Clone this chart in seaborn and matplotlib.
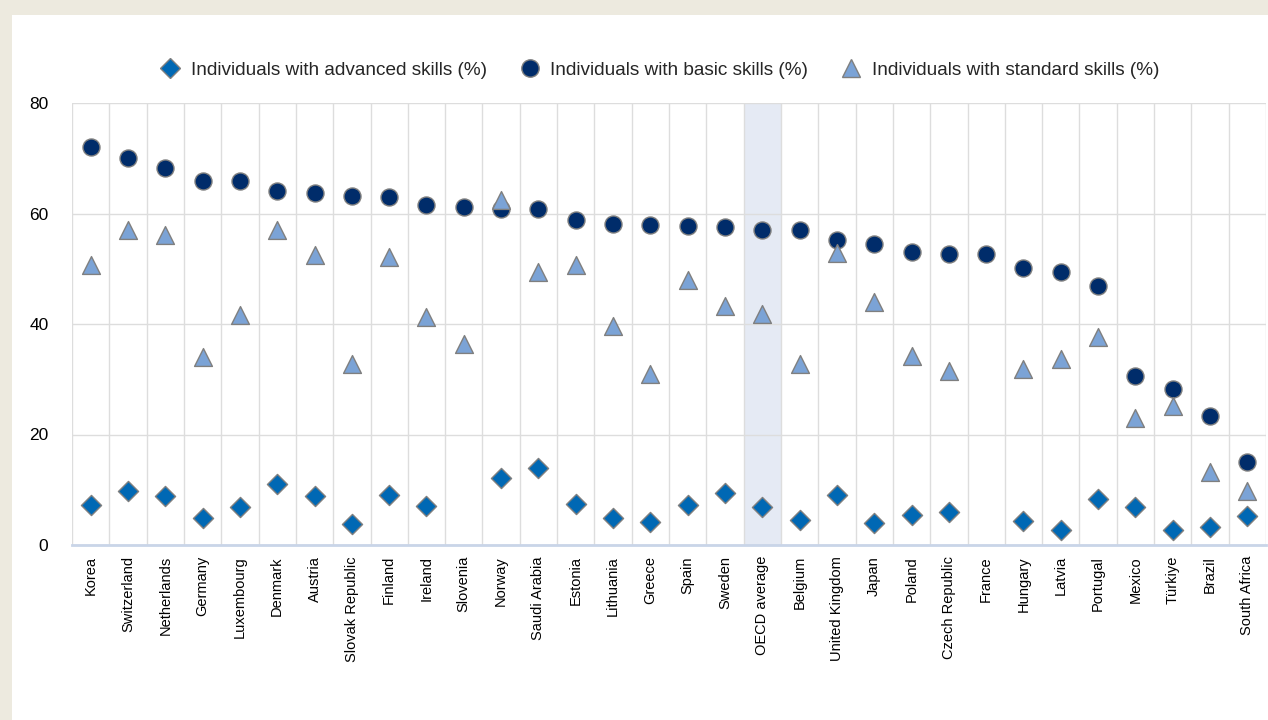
import matplotlib
matplotlib.use("Agg")
import matplotlib.pyplot as plt
from matplotlib.patches import Rectangle
from matplotlib.lines import Line2D
import seaborn as sns
import pandas as pd
import numpy as np

countries = ["Korea", "Switzerland", "Netherlands", "Germany", "Luxembourg", "Denmark",
             "Austria", "Slovak Republic", "Finland", "Ireland", "Slovenia", "Norway",
             "Saudi Arabia", "Estonia", "Lithuania", "Greece", "Spain", "Sweden",
             "OECD average", "Belgium", "United Kingdom", "Japan", "Poland",
             "Czech Republic", "France", "Hungary", "Latvia", "Portugal", "Mexico",
             "Türkiye", "Brazil", "South Africa"]

advanced = [7.2, 9.8, 8.9, 4.8, 6.8, 11.0, 8.9, 3.8, 9.0, 7.1, np.nan, 12.1,
            13.9, 7.5, 4.8, 4.2, 7.2, 9.5, 6.8, 4.6, 9.0, 3.9, 5.5,
            5.9, np.nan, 4.3, 2.7, 8.3, 6.9, 2.7, 3.2, 5.2]

basic = [72.1, 70.1, 68.3, 65.9, 65.8, 64.1, 63.7, 63.2, 62.9, 61.5, 61.2, 60.8,
         60.8, 58.8, 58.1, 57.9, 57.8, 57.6, 57.1, 57.1, 55.2, 54.4, 53.1,
         52.6, 52.6, 50.1, 49.4, 46.9, 30.6, 28.2, 23.3, 15.1]

standard = [50.7, 57.0, 56.1, 34.1, 41.6, 57.0, 52.5, 32.8, 52.1, 41.3, 36.3, 62.5,
            49.5, 50.7, 39.6, 30.9, 48.0, 43.3, 41.9, 32.8, 52.8, 44.0, 34.2,
            31.5, np.nan, 31.9, 33.6, 37.6, 22.9, 25.2, 13.3, 9.7]

series_names = ["Individuals with advanced skills (%)",
                "Individuals with basic skills (%)",
                "Individuals with standard skills (%)"]

y_ticks = [0, 20, 40, 60, 80]

sns.set_theme(style="white")
plt.rcParams["font.family"] = ["Liberation Sans", "DejaVu Sans"]

fig = plt.figure(figsize=(12.68, 7.2), dpi=100)
fig.patch.set_facecolor("#EDEADF")
fig.patches.append(Rectangle((12 / 1268, 0), 1 - 12 / 1268, 1 - 15 / 720,
                             transform=fig.transFigure, facecolor="white",
                             edgecolor="none", zorder=-5))

ax = fig.add_axes([72 / 1268, 1 - 545 / 720, (1266 - 72) / 1268, (545 - 103) / 720])
ax.set_facecolor("white")

x = np.arange(len(countries))
df = pd.DataFrame({"x": x, "country": countries,
                   series_names[0]: advanced,
                   series_names[1]: basic,
                   series_names[2]: standard})

# OECD average highlight
oecd_i = countries.index("OECD average")
ax.axvspan(oecd_i - 0.5, oecd_i + 0.5, color="#E5EAF4", zorder=0, lw=0)

styles = [
    dict(marker="D", color="#0068B4", s=105, z=5),
    dict(marker="o", color="#002C6A", s=150, z=3),
    dict(marker="^", color="#7BA3D6", s=165, z=4),
]
for i in [1, 2, 0]:
    st = styles[i]
    sns.scatterplot(data=df, x="x", y=series_names[i], ax=ax, marker=st["marker"],
                    color=st["color"], s=st["s"], edgecolor="#7F7F7F", linewidth=1.0,
                    zorder=st["z"], legend=False)

ax.set_xlim(-0.5, len(countries) - 0.5)
ax.set_ylim(0, 80)
ax.set_xticks(x)
ax.set_xticklabels(countries, rotation=90, fontsize=10.5, color="black")
ax.set_xticks(np.arange(-0.5, len(countries), 1), minor=True)
ax.set_yticks(y_ticks)
ax.set_yticklabels([str(v) for v in y_ticks], fontsize=12.5, color="black")
ax.tick_params(axis="both", which="both", length=0)
ax.tick_params(axis="y", pad=17)
ax.tick_params(axis="x", pad=8)
ax.set_xlabel("")
ax.set_ylabel("")

ax.grid(False)
ax.grid(axis="x", which="minor", color="#DDDDDD", lw=1.0, zorder=1)
ax.grid(axis="y", which="major", color="#DDDDDD", lw=1.0, zorder=1)
ax.set_axisbelow(True)
for side in ["top", "right", "left"]:
    ax.spines[side].set_visible(False)
ax.spines["bottom"].set_color("#C9D5E8")
ax.spines["bottom"].set_linewidth(2.0)

handles = [
    Line2D([], [], marker="D", ls="none", markerfacecolor="#0068B4",
           markeredgecolor="#7F7F7F", markersize=10),
    Line2D([], [], marker="o", ls="none", markerfacecolor="#002C6A",
           markeredgecolor="#7F7F7F", markersize=12.5),
    Line2D([], [], marker="^", ls="none", markerfacecolor="#7BA3D6",
           markeredgecolor="#7F7F7F", markersize=13),
]
fig.legend(handles, series_names, loc="center", ncol=3,
           bbox_to_anchor=(657 / 1268, 1 - 70 / 720), frameon=False,
           fontsize=13.7, handletextpad=0.3, columnspacing=1.45, handlelength=1.6)

fig.savefig("out.png", dpi=100, facecolor=fig.get_facecolor())
